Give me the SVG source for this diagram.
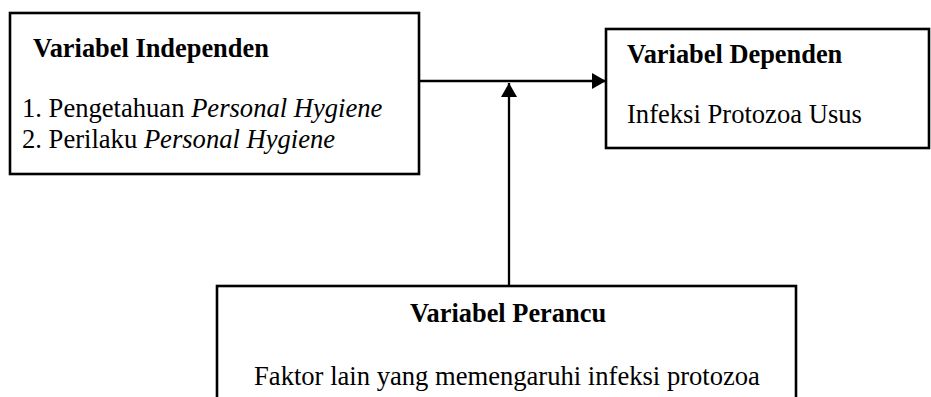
<svg xmlns="http://www.w3.org/2000/svg" width="931" height="397" viewBox="0 0 931 397">
<style>
.box{fill:#fff;stroke:#000;stroke-width:2.6}
.t{font-size:26.6px;fill:#000}
.b{font-weight:bold;font-size:26.4px}
.i{font-style:italic}
.c{stroke:#000;stroke-width:2.3;fill:none}
</style>
<defs>
<marker id="ah" viewBox="0 0 14 16" refX="14" refY="8" markerWidth="14" markerHeight="16" markerUnits="userSpaceOnUse" orient="auto">
<path d="M0,0 L14,8 L0,16 Z" fill="#000"/>
</marker>
</defs>
<rect width="931" height="397" fill="#fff"/>
<g font-family="'Liberation Serif', 'Times New Roman', 'DejaVu Serif', serif">
<g id="n-independen">
<rect class="box" x="10" y="13" width="409" height="161"/>
<text class="t b" x="33" y="57">Variabel Independen</text>
<text class="t" x="22" y="117">1. Pengetahuan <tspan class="i">Personal Hygiene</tspan></text>
<text class="t" x="22" y="148">2. Perilaku <tspan class="i">Personal Hygiene</tspan></text>
</g>
<g id="n-dependen">
<rect class="box" x="606" y="29" width="323" height="119"/>
<text class="t b" x="627" y="63">Variabel Dependen</text>
<text class="t" x="627" y="123">Infeksi Protozoa Usus</text>
</g>
<g id="n-perancu">
<rect class="box" x="217" y="286" width="579" height="130"/>
<text class="t b" x="508" y="322" text-anchor="middle">Variabel Perancu</text>
<text class="t" x="507" y="385" text-anchor="middle">Faktor lain yang memengaruhi infeksi protozoa</text>
</g>
</g>
<g id="connectors">
<line class="c" x1="419" y1="81" x2="606" y2="81" marker-end="url(#ah)"/>
<line class="c" x1="509" y1="286" x2="509" y2="83" marker-end="url(#ah)"/>
</g>
</svg>
